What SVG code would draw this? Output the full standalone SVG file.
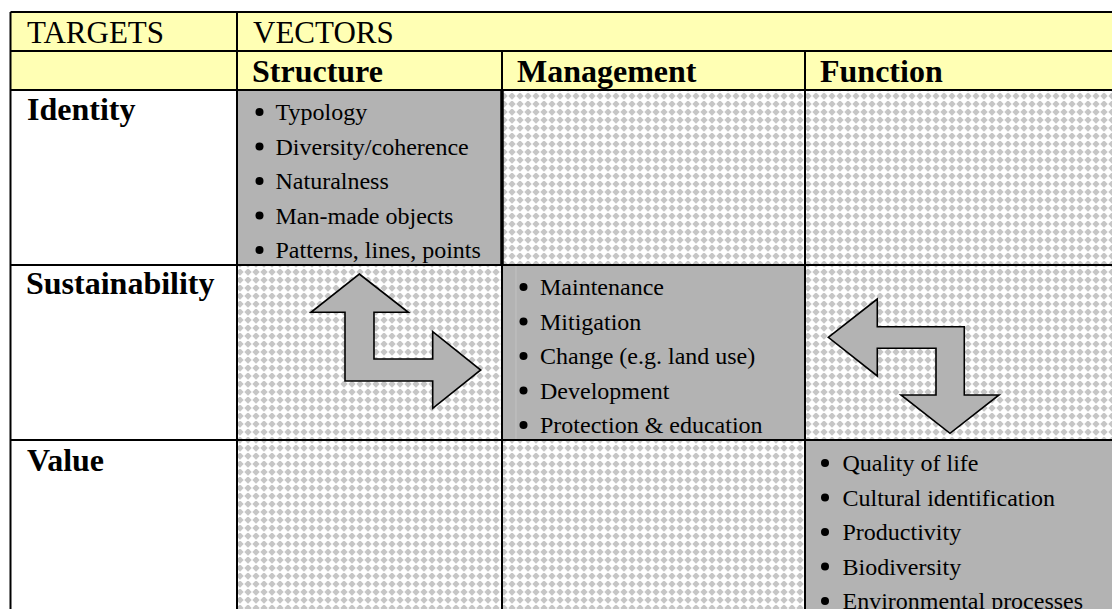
<svg xmlns="http://www.w3.org/2000/svg" width="1112" height="609" viewBox="0 0 1112 609">
<defs>
<pattern id="trellis" width="8" height="8" patternUnits="userSpaceOnUse">
<rect width="8" height="8" fill="#c6c6c6"/>
<polygon points="4,-0.3 8.3,4 4,8.3 -0.3,4" fill="#ffffff"/>
</pattern>
</defs>
<style>
.hdr{font-family:"Liberation Serif","Times New Roman",serif;font-size:31px;fill:#000}
.b{font-weight:bold;font-size:32px}
.item{font-family:"Liberation Serif","Times New Roman",serif;font-size:24px;fill:#000}
.yellow{fill:#ffffb4}
.gray{fill:#b3b3b3}
.pat{fill:url(#trellis)}
.grid{stroke:#000;stroke-width:2;fill:none}
.arrow{fill:#b3b3b3;stroke:#000;stroke-width:1.6;stroke-linejoin:miter}
</style>
<rect width="1112" height="609" fill="#ffffff"/>

<g id="header-row1">
<rect class="yellow" x="10.5" y="12" width="1102" height="39"/>
<text class="hdr" x="27" y="43">TARGETS</text>
<text class="hdr" x="253" y="43">VECTORS</text>
</g>
<g id="header-row2">
<rect class="yellow" x="10.5" y="51" width="1102" height="39"/>
<text class="hdr b" x="252" y="82">Structure</text>
<text class="hdr b" x="517" y="82">Management</text>
<text class="hdr b" x="820" y="82">Function</text>
</g>

<g id="targets">
<text class="hdr b" x="27" y="120">Identity</text>
<text class="hdr b" x="26" y="294">Sustainability</text>
<text class="hdr b" x="27" y="471">Value</text>
</g>

<g id="pattern-cells">
<rect class="pat" x="502" y="90" width="303" height="175"/>
<rect class="pat" x="805" y="90" width="307" height="175"/>
<rect class="pat" x="237" y="265" width="265" height="175"/>
<rect class="pat" x="805" y="265" width="307" height="175"/>
<rect class="pat" x="237" y="440" width="265" height="169"/>
<rect class="pat" x="502" y="440" width="303" height="169"/>
</g>

<g id="structure-identity">
<rect class="gray" x="237" y="90" width="265" height="175"/>
<g fill="#000">
<circle cx="259.5" cy="112" r="4"/>
<circle cx="259.5" cy="146.5" r="4"/>
<circle cx="259.5" cy="181" r="4"/>
<circle cx="259.5" cy="215.5" r="4"/>
<circle cx="259.5" cy="250" r="4"/>
</g>
<text class="item" x="275.5" y="120">Typology</text>
<text class="item" x="275.5" y="154.5">Diversity/coherence</text>
<text class="item" x="275.5" y="189">Naturalness</text>
<text class="item" x="275.5" y="223.5">Man-made objects</text>
<text class="item" x="275.5" y="258">Patterns, lines, points</text>
</g>

<g id="management-sustainability">
<rect class="gray" x="502" y="265" width="303" height="175"/>
<line x1="516" y1="266" x2="516" y2="439" stroke="#c2c2c2" stroke-width="1"/>
<g fill="#000">
<circle cx="523.5" cy="287" r="4"/>
<circle cx="523.5" cy="321.5" r="4"/>
<circle cx="523.5" cy="356" r="4"/>
<circle cx="523.5" cy="390.5" r="4"/>
<circle cx="523.5" cy="425" r="4"/>
</g>
<text class="item" x="540" y="295">Maintenance</text>
<text class="item" x="540" y="329.5">Mitigation</text>
<text class="item" x="540" y="364">Change (e.g. land use)</text>
<text class="item" x="540" y="398.5">Development</text>
<text class="item" x="540" y="433">Protection &amp; education</text>
</g>

<g id="function-value">
<rect class="gray" x="805" y="440" width="307" height="169"/>
<g fill="#000">
<circle cx="825" cy="463" r="4"/>
<circle cx="825" cy="497.5" r="4"/>
<circle cx="825" cy="532" r="4"/>
<circle cx="825" cy="566.5" r="4"/>
<circle cx="825" cy="601" r="4"/>
</g>
<text class="item" x="842.5" y="471">Quality of life</text>
<text class="item" x="842.5" y="505.5">Cultural identification</text>
<text class="item" x="842.5" y="540">Productivity</text>
<text class="item" x="842.5" y="574.5">Biodiversity</text>
<text class="item" x="842.5" y="609">Environmental processes</text>
</g>

<g id="grid">
<path class="grid" d="M10.5,12 H1112 M10.5,51 H1112 M10.5,90 H1112 M10.5,265 H1112 M10.5,440 H1112"/>
<path class="grid" d="M10.5,12 V609 M237,12 V609 M502,51 V609 M805,51 V609"/>
<line x1="502" y1="90" x2="502" y2="265" stroke="#000" stroke-width="3.5"/>
</g>

<g id="connectors">
<polygon class="arrow" points="359.3,274 408.3,312.3 374,312.3 374,359 432.7,359 432.7,331.7 480.7,370 432.7,408.3 432.7,381 345,381 345,312.3 311,312.3"/>
<polygon class="arrow" points="828.3,337.3 877.3,299 877.3,326.7 964.3,326.7 964.3,395 999,395 950,433.3 901,395 936,395 936,348.3 877.3,348.3 877.3,376"/>
</g>
</svg>
